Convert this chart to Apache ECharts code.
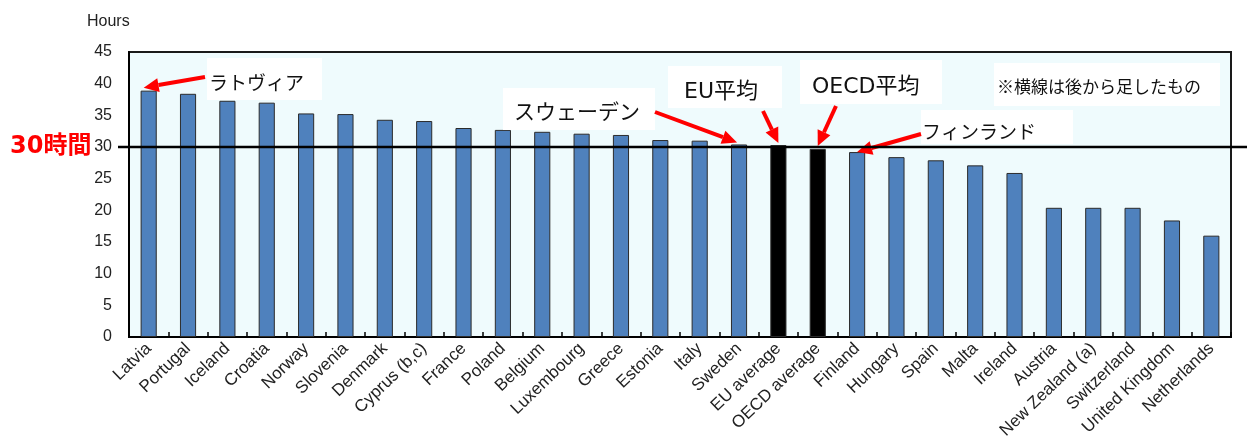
<!DOCTYPE html>
<html><head><meta charset="utf-8">
<script src="https://cdn.jsdelivr.net/npm/echarts@6/dist/echarts.min.js"></script>
<style>html,body{margin:0;padding:0;background:#fff}#c{width:1247px;height:439px}</style>
</head><body><div id="c"></div>
<script>
const categories = ['Latvia','Portugal','Iceland','Croatia','Norway','Slovenia','Denmark','Cyprus (b,c)','France','Poland','Belgium','Luxembourg','Greece','Estonia','Italy','Sweden','EU average','OECD average','Finland','Hungary','Spain','Malta','Ireland','Austria','New Zealand (a)','Switzerland','United Kingdom','Netherlands'];
const hours = [38.9,38.4,37.3,37.0,35.3,35.2,34.3,34.1,33.0,32.7,32.4,32.1,31.9,31.1,31.0,30.4,30.3,29.7,29.2,28.4,27.9,27.1,25.9,20.4,20.4,20.4,18.4,16.0];
const yMin = 0, yMax = 45, yStep = 5;
const averageCategories = ['EU average','OECD average'];
const referenceValue = 30;
const referenceLabel = '30時間';
const axisTitle = 'Hours';
const noteText = '※横線は後から足したもの';
const calloutTexts = {
  'Latvia':'ラトヴィア',
  'Sweden':'スウェーデン',
  'EU average':'EU平均',
  'OECD average':'OECD平均',
  'Finland':'フィンランド'
};

const chart = echarts.init(document.getElementById('c'));
const BAR_BLUE = '#4f81bd';
const sansLatin = 'Liberation Sans, Arial, sans-serif';
const sansJP = '"Noto Sans CJK JP", sans-serif';
const mixedJP = '"DejaVu Sans", "Noto Sans CJK JP", sans-serif';

chart.setOption({
  animation:false,
  grid:{left:129,right:16,top:52,bottom:102,show:true,outerBoundsMode:'none',containLabel:false,backgroundColor:'#effbfd',borderColor:'#1a1a1a',borderWidth:2},
  xAxis:{type:'category',data:categories,
    axisLine:{lineStyle:{color:'#000',width:2}},
    axisTick:{show:true,inside:true,length:5,lineStyle:{color:'#000',width:1.5}},
    axisLabel:{rotate:44,interval:0,fontSize:17,fontFamily:sansLatin,color:'#222',margin:9}},
  yAxis:{type:'value',min:yMin,max:yMax,interval:yStep,
    axisLine:{show:true,lineStyle:{color:'#000',width:2}},
    axisTick:{show:false},splitLine:{show:false},
    axisLabel:{fontSize:16,color:'#222',margin:17,fontFamily:sansLatin}},
  series:[{type:'bar',barWidth:'41%',
    data:hours.map((v,i)=>({value:v,itemStyle:{color:averageCategories.includes(categories[i])?'#000':BAR_BLUE}})),
    itemStyle:{borderColor:'#2b2b2b',borderWidth:1}}]
});

function arrow(x1,y1,x2,y2){
  const ang=Math.atan2(y2-y1,x2-x1), hl=15, hw=7;
  const bx=x2-hl*Math.cos(ang), by=y2-hl*Math.sin(ang);
  const px=-Math.sin(ang)*hw, py=Math.cos(ang)*hw;
  return [
    {type:'line',z:50,shape:{x1:x1,y1:y1,x2:bx,y2:by},style:{stroke:'#ff0000',lineWidth:4}},
    {type:'polygon',z:50,shape:{points:[[x2,y2],[bx+px,by+py],[bx-px,by-py]]},style:{fill:'#ff0000'}}
  ];
}
function tip(cat){
  const i=categories.indexOf(cat);
  return chart.convertToPixel({seriesIndex:0},[i,hours[i]]);
}
function box(x,y,w,h){return {type:'rect',z:40,shape:{x:x,y:y,width:w,height:h},style:{fill:'#fff'}};}
function label(txt,x,y,size,fam){return {type:'text',z:45,x:x,y:y,style:{text:txt,fill:'#111',font:size+'px '+(fam||sansJP),textVerticalAlign:'middle'}};}

const refY = chart.convertToPixel({yAxisIndex:0},referenceValue);
const g = [];
g.push({type:'line',z:60,shape:{x1:118,y1:refY,x2:1247,y2:refY},style:{stroke:'#000',lineWidth:2.5}});
g.push({type:'text',z:60,x:10,y:refY,style:{text:referenceLabel,fill:'#ff0000',font:'bold 24px '+mixedJP,textVerticalAlign:'middle'}});
g.push({type:'text',z:60,x:87,y:22,style:{text:axisTitle,fill:'#222',font:'16px '+sansLatin,textVerticalAlign:'middle'}});

// Latvia
let t=tip('Latvia');
g.push(box(207,58,115,42), label(calloutTexts['Latvia'],209,83,19), ...arrow(205,77,t[0]-5,t[1]-3));
// Sweden
t=tip('Sweden');
g.push(box(503,88,152,42), label(calloutTexts['Sweden'],514,111,21), ...arrow(655,112,t[0]-2,t[1]-2));
// EU average
t=tip('EU average');
g.push(box(668,66,114,42), label(calloutTexts['EU average'],684,92,22,mixedJP), ...arrow(763,111,t[0],t[1]-2));
// OECD average
t=tip('OECD average');
g.push(box(800,60,142,44), label(calloutTexts['OECD average'],812,87,22,mixedJP), ...arrow(836,106,t[0],t[1]-3));
// note
g.push(box(994,63,226,43), label(noteText,997,87,17));
// Finland
t=tip('Finland');
g.push(box(921,110,152,34), label(calloutTexts['Finland'],922,132,19), ...arrow(921,134,t[0],t[1]));

chart.setOption({graphic:g});
</script></body></html>
